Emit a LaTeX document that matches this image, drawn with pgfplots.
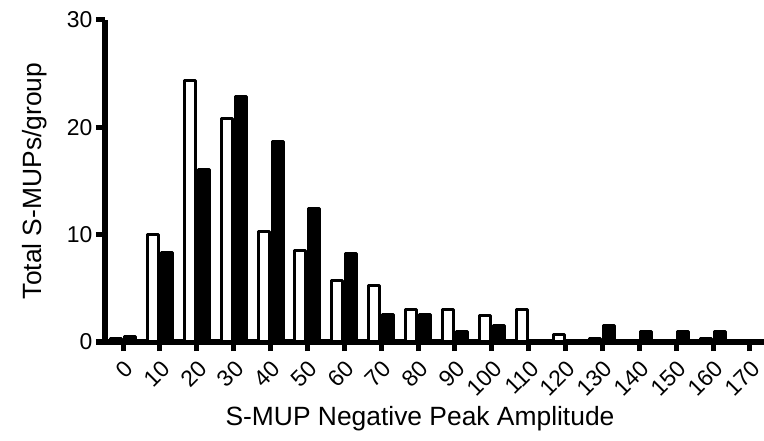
\documentclass[border=0pt]{standalone}
\usepackage{pgfplots}
\pgfplotsset{compat=1.18}
\usepackage{fontspec}
\setmainfont{Liberation Sans}
\begin{document}
\begin{tikzpicture}
\path[use as bounding box] (0,0) rectangle (764bp,441bp);
\begin{axis}[
  at={(105bp,99bp)}, anchor=south west,
  scale only axis, width=659bp, height=322bp,
  xmin=-4.9, xmax=173.8, ymin=0, ymax=30,
  clip=false,
  axis x line*=bottom, axis y line*=left,
  axis line style={line width=5bp,-},
  xtick={0,10,...,170}, ytick={0,10,20,30},
  tick align=outside, major tick length=9bp,
  tick style={line width=5bp,black},
  /pgf/number format/assume math mode=true,
  tick label style={font=\fontsize{23}{27}\selectfont},
  xticklabel style={rotate=45, anchor=north east, inner sep=1bp},
  xticklabel shift=6bp,
  label style={font=\fontsize{26.5}{30}\selectfont},
  xlabel={S-MUP Negative Peak Amplitude},
  ylabel={Total S-MUPs/group},
  xlabel style={at={(axis description cs:0.478,0)}, anchor=base, yshift=-83bp},
  ylabel style={at={(axis description cs:0,0.5)}, anchor=base, yshift=63bp},
  ybar, bar width=11bp,
]
\addplot[draw=black, fill=white, line width=3bp, line join=round, bar shift=-7bp]
coordinates {(0,0.3) (10,10) (20,24.4) (30,20.8) (40,10.3) (50,8.5) (60,5.7) (70,5.25) (80,3.0) (90,3.0) (100,2.5) (110,3.0) (120,0.7) (130,0.3) (140,0) (150,0) (160,0.3) (170,0)};
\addplot[draw=black, fill=black, line width=3bp, line join=round, bar shift=7bp]
coordinates {(0,0.5) (10,8.3) (20,16.1) (30,22.9) (40,18.7) (50,12.4) (60,8.2) (70,2.6) (80,2.6) (90,1.0) (100,1.5) (110,0) (120,0) (130,1.5) (140,1.0) (150,1.0) (160,1.0) (170,0)};
\end{axis}
\end{tikzpicture}
\end{document}
